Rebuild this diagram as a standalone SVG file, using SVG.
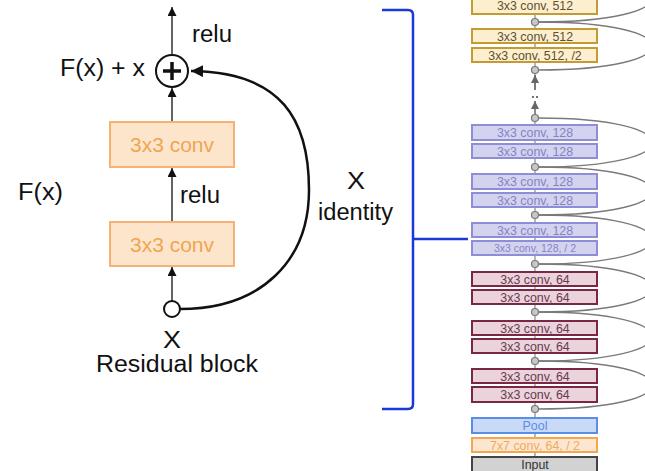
<svg xmlns="http://www.w3.org/2000/svg" width="645" height="471" viewBox="0 0 645 471">
<defs>
<style>
.lbl{font-family:"Liberation Sans",Arial,sans-serif;font-size:23.5px;fill:#111}
.bt{font-family:"Liberation Sans",Arial,sans-serif;font-size:21px;fill:#f0a552;text-anchor:middle}
.obox{fill:#fde5cc;stroke:#f5b272;stroke-width:2}
.ar{stroke:#111;stroke-width:1.3;fill:none}
.st{font-family:"Liberation Sans",Arial,sans-serif;font-size:12.4px;text-anchor:middle}
.b512{fill:#fcefcf;stroke:#c49a33;stroke-width:2}
.t512{fill:#5e5030}
.b128{fill:#d3d3ef;stroke:#8e8ed6;stroke-width:2}
.t128{fill:#8484c4}
.b64{fill:#ead3db;stroke:#7a2646;stroke-width:2}
.t64{fill:#6a3850}
.skip{stroke:#7a7a7a;stroke-width:1.3;fill:none}
.dot{fill:#c8c8c8;stroke:#777;stroke-width:1.2}
</style>
<marker id="ah" viewBox="0 0 10 10" refX="10" refY="5" markerWidth="10" markerHeight="9" markerUnits="userSpaceOnUse" orient="auto"><path d="M0,0 L10,5 L0,10 z" fill="#111"/></marker>
<marker id="ah2" viewBox="0 0 10 10" refX="10" refY="5" markerWidth="12" markerHeight="12" markerUnits="userSpaceOnUse" orient="auto"><path d="M0,0 L10,5 L0,10 z" fill="#111"/></marker>
<marker id="gh" viewBox="0 0 10 10" refX="10" refY="5" markerWidth="10" markerHeight="8" markerUnits="userSpaceOnUse" orient="auto"><path d="M0,0 L10,5 L0,10 z" fill="#666"/></marker>
</defs>
<rect width="645" height="471" fill="#fff"/>

<g id="connectors">
<line class="ar" x1="172" y1="55" x2="172" y2="7" marker-end="url(#ah)"/>
<line class="ar" x1="172" y1="122" x2="172" y2="88" marker-end="url(#ah)"/>
<line class="ar" x1="172" y1="222" x2="172" y2="168" marker-end="url(#ah)"/>
<line class="ar" x1="172" y1="301" x2="172" y2="267" marker-end="url(#ah)"/>
<path d="M180,309 C262,309 309,260 309,190 C309,120 282,72 191,71" stroke="#111" stroke-width="2.5" fill="none" marker-end="url(#ah2)"/>
<path d="M382,10 H408 Q413,10 413,15 V404 Q413,409 408,409 H382 M413,239 H468" stroke="#1a3ad8" stroke-width="2.5" fill="none"/>
<line x1="535" y1="0" x2="535" y2="90" stroke="#888" stroke-width="1.2"/>
<line x1="535" y1="118" x2="535" y2="457" stroke="#888" stroke-width="1.2"/>
<line x1="535" y1="90" x2="535" y2="75" stroke="#666" stroke-width="1.5" marker-end="url(#gh)"/>
<line x1="535" y1="115" x2="535" y2="101" stroke="#666" stroke-width="1.5" marker-end="url(#gh)"/>
<circle cx="533" cy="97" r="1" fill="#444"/>
<circle cx="537" cy="97" r="1" fill="#444"/>
<path class="skip" d="M538.5,22 C690,22 690,-26 538.5,-26"/>
<path class="skip" d="M538.5,70 C690,70 690,22 538.5,22"/>
<path class="skip" d="M538.5,167 C690,167 690,118 538.5,118"/>
<path class="skip" d="M538.5,215 C690,215 690,167 538.5,167"/>
<path class="skip" d="M538.5,264 C690,264 690,215 538.5,215"/>
<path class="skip" d="M538.5,312 C690,312 690,264 538.5,264"/>
<path class="skip" d="M538.5,361 C690,361 690,312 538.5,312"/>
<path class="skip" d="M538.5,409 C690,409 690,361 538.5,361"/>
</g>

<g id="plus">
<circle cx="172" cy="71" r="16" fill="#fff" stroke="#111" stroke-width="2"/>
<path d="M163,71 H181 M172,62 V80" stroke="#111" stroke-width="3.5"/>
</g>
<g id="input-x"><circle cx="172" cy="309" r="8" fill="#fff" stroke="#111" stroke-width="2"/></g>
<g id="conv1"><rect class="obox" x="110" y="122" width="124" height="45"/><text class="bt" x="172" y="152">3x3 conv</text></g>
<g id="conv2"><rect class="obox" x="110" y="222" width="124" height="44"/><text class="bt" x="172" y="252">3x3 conv</text></g>

<g id="labels">
<text class="lbl" x="192" y="42" textLength="40" lengthAdjust="spacingAndGlyphs">relu</text>
<text class="lbl" x="60" y="76" textLength="85" lengthAdjust="spacingAndGlyphs">F(x) + x</text>
<text class="lbl" x="18" y="200" textLength="45" lengthAdjust="spacingAndGlyphs">F(x)</text>
<text class="lbl" x="180" y="203" textLength="40" lengthAdjust="spacingAndGlyphs">relu</text>
<text class="lbl" x="163" y="348" textLength="18" lengthAdjust="spacingAndGlyphs">X</text>
<text class="lbl" x="96" y="372" textLength="162" lengthAdjust="spacingAndGlyphs">Residual block</text>
<text class="lbl" x="347" y="189" textLength="18" lengthAdjust="spacingAndGlyphs">X</text>
<text class="lbl" x="318" y="220" textLength="75" lengthAdjust="spacingAndGlyphs">identity</text>
</g>

<g id="stack">
<g id="c512a"><rect class="b512" x="472" y="-2" width="125" height="16"/><text class="st t512" x="535" y="10">3x3 conv, 512</text></g>
<g id="c512b"><rect class="b512" x="472" y="29" width="125" height="14"/><text class="st t512" x="535" y="40.5">3x3 conv, 512</text></g>
<g id="c512c"><rect class="b512" x="472" y="48" width="125" height="14"/><text class="st t512" x="535" y="59.5">3x3 conv, 512, /2</text></g>
<g id="c128a"><rect class="b128" x="472" y="125" width="125" height="15"/><text class="st t128" x="535" y="137">3x3 conv, 128</text></g>
<g id="c128b"><rect class="b128" x="472" y="144" width="125" height="14"/><text class="st t128" x="535" y="155.5">3x3 conv, 128</text></g>
<g id="c128c"><rect class="b128" x="472" y="174" width="125" height="15"/><text class="st t128" x="535" y="186">3x3 conv, 128</text></g>
<g id="c128d"><rect class="b128" x="472" y="193" width="125" height="14"/><text class="st t128" x="535" y="204.5">3x3 conv, 128</text></g>
<g id="c128e"><rect class="b128" x="472" y="223" width="125" height="14"/><text class="st t128" x="535" y="234.5">3x3 conv, 128</text></g>
<g id="c128f"><rect class="b128" x="472" y="241" width="125" height="14"/><text class="st t128" x="535" y="252" style="font-size:10.5px">3x3 conv, 128, / 2</text></g>
<g id="c64a"><rect class="b64" x="472" y="272" width="125" height="14"/><text class="st t64" x="535" y="283.5">3x3 conv, 64</text></g>
<g id="c64b"><rect class="b64" x="472" y="290" width="125" height="14"/><text class="st t64" x="535" y="301.5">3x3 conv, 64</text></g>
<g id="c64c"><rect class="b64" x="472" y="321" width="125" height="14"/><text class="st t64" x="535" y="332.5">3x3 conv, 64</text></g>
<g id="c64d"><rect class="b64" x="472" y="339" width="125" height="14"/><text class="st t64" x="535" y="350.5">3x3 conv, 64</text></g>
<g id="c64e"><rect class="b64" x="472" y="369" width="125" height="14"/><text class="st t64" x="535" y="380.5">3x3 conv, 64</text></g>
<g id="c64f"><rect class="b64" x="472" y="387" width="125" height="15"/><text class="st t64" x="535" y="399">3x3 conv, 64</text></g>
<g id="pool"><rect x="472" y="418" width="125" height="15" fill="#c9d9f8" stroke="#5b8de6" stroke-width="2"/><text class="st" x="535" y="430" fill="#5b8de6">Pool</text></g>
<g id="conv7"><rect x="472" y="438" width="125" height="14" fill="#fde6cf" stroke="#f3a850" stroke-width="2"/><text class="st" x="535" y="449.5" fill="#f0aa60">7x7 conv, 64, / 2</text></g>
<g id="input"><rect x="472" y="457" width="125" height="16" fill="#d2d2d2" stroke="#444" stroke-width="2"/><text class="st" x="535" y="469" fill="#333">Input</text></g>
<circle class="dot" cx="535" cy="22" r="3.5"/>
<circle class="dot" cx="535" cy="70" r="3.5"/>
<circle class="dot" cx="535" cy="118" r="3.5"/>
<circle class="dot" cx="535" cy="167" r="3.5"/>
<circle class="dot" cx="535" cy="215" r="3.5"/>
<circle class="dot" cx="535" cy="264" r="3.5"/>
<circle class="dot" cx="535" cy="312" r="3.5"/>
<circle class="dot" cx="535" cy="361" r="3.5"/>
<circle class="dot" cx="535" cy="409" r="3.5"/>
</g>
</svg>
